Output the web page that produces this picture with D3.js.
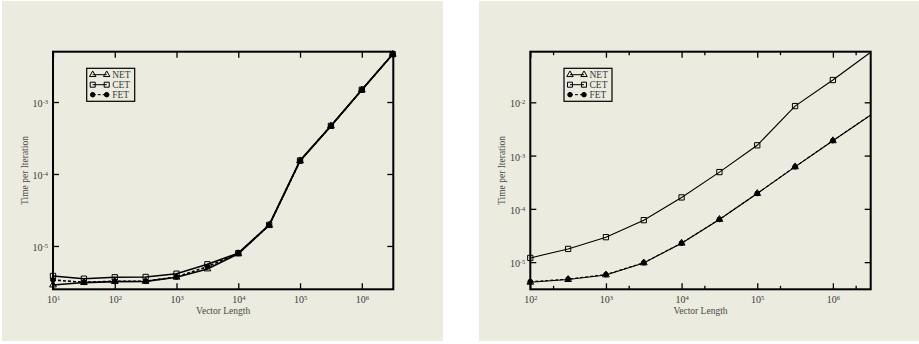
<!DOCTYPE html>
<html>
<head>
<meta charset="utf-8">
<script src="https://cdn.jsdelivr.net/npm/d3@7"></script>
<style>
  html, body { margin: 0; padding: 0; background: #ffffff; }
  svg { display: block; }
</style>
</head>
<body>
<svg id="chart" width="919" height="344"></svg>
<script>
// ---------- DATA ----------
const seriesNames = ["NET", "CET", "FET"];

// Left panel
const lengthsLeft = [10, 31.62, 100, 316.2, 1000, 3162, 1e4, 31623, 1e5, 316228, 1e6, 3162278];
const netLeft = [2.87e-6, 3.1e-6, 3.2e-6, 3.22e-6, 3.68e-6, 4.8e-6, 7.8e-6, 1.94e-5, 1.52e-4, 4.64e-4, 1.47e-3, 4.6e-3];
const cetLeft = [3.83e-6, 3.51e-6, 3.67e-6, 3.71e-6, 4.12e-6, 5.57e-6, 7.95e-6, 1.96e-5, 1.54e-4, 4.66e-4, 1.48e-3, 4.62e-3];
const fetLeft = [3.37e-6, 3.13e-6, 3.24e-6, 3.24e-6, 3.71e-6, 5.16e-6, 7.9e-6, 1.94e-5, 1.52e-4, 4.64e-4, 1.47e-3, 4.6e-3];
const xTickExpLeft = [1, 2, 3, 4, 5, 6];
const yTickExpLeft = [-3, -4, -5];

// Right panel
const lengthsRight = [100, 316.2, 1000, 3162, 1e4, 31623, 1e5, 316228, 1e6, 1e7];
const netRight = [4.19e-6, 4.71e-6, 5.75e-6, 9.67e-6, 2.27e-5, 6.33e-5, 1.94e-4, 6.15e-4, 1.9e-3, 1.75e-2];
const cetRight = [1.2e-5, 1.77e-5, 2.94e-5, 6.14e-5, 1.64e-4, 4.9e-4, 1.56e-3, 8.5e-3, 2.62e-2, 2.89e-1];
const fetRight = [4.3e-6, 4.8e-6, 5.85e-6, 9.75e-6, 2.28e-5, 6.35e-5, 1.95e-4, 6.17e-4, 1.91e-3, 1.76e-2];
const xTickExpRight = [2, 3, 4, 5, 6];
const xMinorRight = [2e2, 2e3, 2e4, 2e5, 2e6];
const yTickExpRight = [-2, -3, -4, -5];

const xTitle = "Vector Length";
const yTitle = "Time per Iteration";

// ---------- DRAW ----------
const svg = d3.select("#chart");
const BG = "#ebebdf";
const FONT = "'Liberation Serif', 'Times New Roman', serif";
const TXT = "#3a3a3a";

function drawPanel(cfg) {
  const g = svg.append("g");
  g.append("rect").attr("x", cfg.bg[0]).attr("y", cfg.bg[1])
    .attr("width", cfg.bg[2]).attr("height", cfg.bg[3]).attr("fill", BG);

  const L = cfg.plot[0], T = cfg.plot[1], R = cfg.plot[2], B = cfg.plot[3];
  const x = d3.scaleLog().domain(cfg.xDomain).range([L, R]);
  const y = d3.scaleLog().domain(cfg.yDomain).range([B, T]);

  const clipId = "clip" + cfg.id;
  g.append("clipPath").attr("id", clipId).append("rect")
    .attr("x", L - 4).attr("y", T - 4).attr("width", R - L + 8).attr("height", B - T + 8);
  const clipInner = "clipi" + cfg.id;
  g.append("clipPath").attr("id", clipInner).append("rect")
    .attr("x", L).attr("y", T).attr("width", R - L).attr("height", B - T);

  const supFmt = (sel) => {
    sel.each(function(d) {
      const t = d3.select(this);
      const e = Math.round(Math.log10(d));
      t.text(null);
      t.append("tspan").text("10");
      t.append("tspan").attr("dy", "-0.45em").attr("font-size", "6.5px").text(e);
    });
  };

  const xMaj = cfg.xExp.map(e => Math.pow(10, e));
  const yMaj = cfg.yExp.map(e => Math.pow(10, e));

  // bottom axis with labels
  const ax = g.append("g").attr("transform", `translate(0,${B})`)
    .call(d3.axisBottom(x).tickValues(xMaj).tickSizeInner(-6).tickSizeOuter(0).tickPadding(7));
  ax.select(".domain").remove();
  ax.selectAll("text").attr("font-family", FONT).attr("font-size", "10px").attr("fill", TXT).call(supFmt);
  // top axis
  const axt = g.append("g").attr("transform", `translate(0,${T})`)
    .call(d3.axisTop(x).tickValues(xMaj).tickSizeInner(-6).tickSizeOuter(0).tickFormat(""));
  axt.select(".domain").remove();
  if (cfg.xMinor) {
    [[B, d3.axisBottom], [T, d3.axisTop]].forEach(([yy, fn]) => {
      const m = g.append("g").attr("transform", `translate(0,${yy})`)
        .call(fn(x).tickValues(cfg.xMinor).tickSizeInner(-3.5).tickSizeOuter(0).tickFormat(""));
      m.select(".domain").remove();
    });
  }
  // left axis with labels
  const ay = g.append("g").attr("transform", `translate(${L},0)`)
    .call(d3.axisLeft(y).tickValues(yMaj).tickSizeInner(-6).tickSizeOuter(0).tickPadding(5));
  ay.select(".domain").remove();
  ay.selectAll("text").attr("font-family", FONT).attr("font-size", "10px").attr("fill", TXT)
    .attr("dy", "0.45em").call(supFmt);
  const ayr = g.append("g").attr("transform", `translate(${R},0)`)
    .call(d3.axisRight(y).tickValues(yMaj).tickSizeInner(-6).tickSizeOuter(0).tickFormat(""));
  ayr.select(".domain").remove();
  g.selectAll(".tick line").attr("stroke", "#000").attr("stroke-width", 1.3);

  // frame
  g.append("rect").attr("x", L).attr("y", T).attr("width", R - L).attr("height", B - T)
    .attr("fill", "none").attr("stroke", "#000").attr("stroke-width", 2);

  // titles
  g.append("text").attr("x", (L + R) / 2).attr("y", cfg.xTitleY).attr("text-anchor", "middle")
    .attr("font-family", FONT).attr("font-size", "9.5px").attr("fill", "#4a4a4a").text(xTitle);
  g.append("text").attr("transform", `translate(${cfg.yTitleX},${(T + B) / 2}) rotate(-90)`)
    .attr("text-anchor", "middle").attr("font-family", FONT).attr("font-size", "9.5px")
    .attr("fill", "#4a4a4a").text(yTitle);

  // series
  const styles = {
    NET: { sym: d3.symbolTriangle, size: 20, fill: "none", dash: null },
    CET: { sym: d3.symbolSquare, size: 28, fill: "none", dash: null },
    FET: { sym: d3.symbolCircle, size: 18, fill: "#000", dash: "3,2" }
  };
  const dataG = g.append("g").attr("clip-path", `url(#${clipInner})`);
  const markG = g.append("g").attr("clip-path", `url(#${clipId})`);
  const order = ["CET", "NET", "FET"];
  order.forEach(name => {
    const vals = cfg.series[name];
    const pts = cfg.xs.map((v, i) => [v, vals[i]]);
    const st = styles[name];
    dataG.append("path").datum(pts)
      .attr("d", d3.line().x(d => x(d[0])).y(d => y(d[1])))
      .attr("fill", "none").attr("stroke", "#000").attr("stroke-width", cfg.lw)
      .attr("stroke-dasharray", st.dash);
  });
  order.forEach(name => {
    const vals = cfg.series[name];
    const st = styles[name];
    const pts = cfg.xs.map((v, i) => [v, vals[i]]).filter(d => x(d[0]) <= R + 1 && y(d[1]) >= T - 1);
    markG.selectAll(null).data(pts).enter().append("path")
      .attr("transform", d => `translate(${x(d[0])},${y(d[1])})`)
      .attr("d", d3.symbol().type(st.sym).size(st.size))
      .attr("fill", st.fill).attr("stroke", "#000").attr("stroke-width", 1);
  });

  // legend
  const lx = L + 33.7, ly = 68.3;
  const lg = g.append("g");
  lg.append("rect").attr("x", lx).attr("y", ly).attr("width", 48).attr("height", 33)
    .attr("fill", BG).attr("stroke", "#000").attr("stroke-width", 1.2);
  seriesNames.forEach((name, i) => {
    const yy = ly + 6.4 + i * 10;
    const st = styles[name];
    lg.append("line").attr("x1", lx + 6).attr("x2", lx + 20).attr("y1", yy).attr("y2", yy)
      .attr("stroke", "#000").attr("stroke-width", 1).attr("stroke-dasharray", st.dash);
    [lx + 6, lx + 20].forEach(px => {
      lg.append("path").attr("transform", `translate(${px},${yy})`)
        .attr("d", d3.symbol().type(st.sym).size(st.size * 0.9))
        .attr("fill", st.fill).attr("stroke", "#000").attr("stroke-width", 1);
    });
    lg.append("text").attr("x", lx + 25.5).attr("y", yy).attr("dy", "0.35em")
      .attr("font-family", FONT).attr("font-size", "9.5px").attr("fill", TXT).text(name);
  });
}

drawPanel({
  id: "L", bg: [2, 1, 441, 340], plot: [53, 51.7, 393.3, 289.3],
  xDomain: [10, Math.pow(10, 6.51)], yDomain: [2.5e-6, 5e-3],
  xExp: xTickExpLeft, yExp: yTickExpLeft, xMinor: null,
  xs: lengthsLeft, series: { NET: netLeft, CET: cetLeft, FET: fetLeft },
  lw: 1.6, xTitleY: 314, yTitleX: 28
});

drawPanel({
  id: "R", bg: [479, 1, 440, 340], plot: [530.3, 51.7, 870.7, 289.3],
  xDomain: [100, Math.pow(10, 6.5)], yDomain: [Math.pow(10, -5.51), Math.pow(10, -1.05)],
  xExp: xTickExpRight, yExp: yTickExpRight, xMinor: xMinorRight,
  xs: lengthsRight, series: { NET: netRight, CET: cetRight, FET: fetRight },
  lw: 1.1, xTitleY: 314, yTitleX: 505
});
</script>
</body>
</html>
